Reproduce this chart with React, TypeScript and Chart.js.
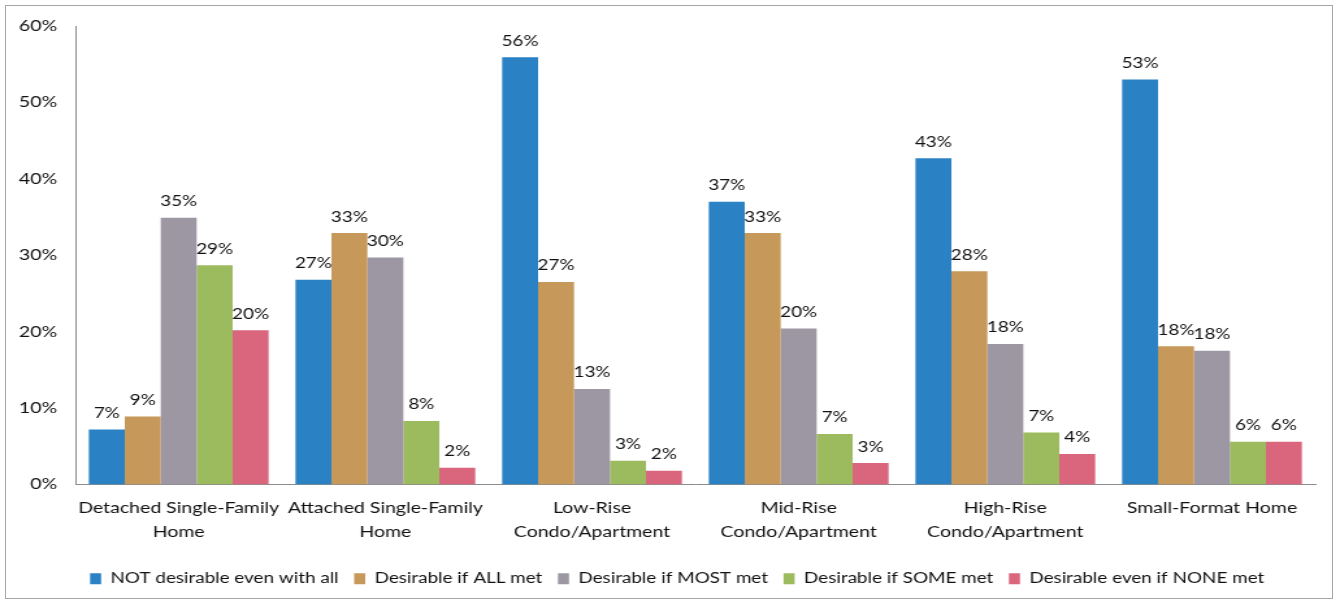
import React, { useEffect, useRef } from "react";
import { Chart, registerables } from "chart.js";

Chart.register(...registerables);

const categories: string[][] = [
  ["Detached Single-Family", "Home"],
  ["Attached Single-Family", "Home"],
  ["Low-Rise", "Condo/Apartment"],
  ["Mid-Rise", "Condo/Apartment"],
  ["High-Rise", "Condo/Apartment"],
  ["Small-Format Home"],
];

const seriesNames = [
  "NOT desirable even with all",
  "Desirable if ALL met",
  "Desirable if MOST met",
  "Desirable if SOME met",
  "Desirable even if NONE met",
];

const notDesirable = [7.2, 26.8, 55.9, 37.0, 42.7, 53.0];
const ifAllMet = [8.9, 32.9, 26.5, 32.9, 27.9, 18.1];
const ifMostMet = [34.9, 29.7, 12.5, 20.4, 18.4, 17.5];
const ifSomeMet = [28.7, 8.3, 3.1, 6.6, 6.8, 5.6];
const evenIfNone = [20.2, 2.2, 1.8, 2.8, 4.0, 5.6];

const colors = ["#2A82C4", "#C6985A", "#9D96A3", "#9BBB5E", "#D9667C"];

const yTicks = [0, 10, 20, 30, 40, 50, 60];

const FONT = "Lato, 'Open Sans', sans-serif";
const STRETCH = 1.3;
const W = 1340;
const H = 606;
const CW = Math.round(W / STRETCH);

const dataLabelPlugin = {
  id: "dataLabels",
  afterDatasetsDraw(chart: any) {
    const ctx = chart.ctx;
    ctx.save();
    ctx.font = `14.5px ${FONT}`;
    ctx.fillStyle = "#111";
    ctx.textAlign = "center";
    ctx.textBaseline = "bottom";
    chart.data.datasets.forEach((ds: any, di: number) => {
      const meta = chart.getDatasetMeta(di);
      meta.data.forEach((el: any, i: number) => {
        const v = ds.data[i];
        ctx.fillText(Math.round(v) + "%", el.x, el.y - 9);
      });
    });
    ctx.restore();
  },
};

const legendShiftPlugin = {
  id: "legendShift",
  afterLayout(chart: any) {
    const lg = chart.legend;
    if (lg) {
      lg.left += 30;
      lg.right += 0;
      lg.width = lg.right - lg.left;
    }
  },
};

export default function App() {
  const ref = useRef<HTMLCanvasElement>(null);
  useEffect(() => {
    document.body.style.margin = "0";
    const allSeries = [notDesirable, ifAllMet, ifMostMet, ifSomeMet, evenIfNone];
    const chart = new Chart(ref.current!, {
      type: "bar",
      data: {
        labels: categories,
        datasets: allSeries.map((d, i) => ({
          label: seriesNames[i],
          data: d,
          backgroundColor: colors[i],
          borderWidth: 0,
          categoryPercentage: 0.87,
          barPercentage: 1,
        })),
      },
      options: {
        animation: false,
        responsive: false,
        maintainAspectRatio: false,
        layout: { padding: { top: 26, right: 19, left: 0, bottom: 10 } },
        plugins: {
          legend: {
            position: "bottom",
            labels: {
              boxWidth: 8.5,
              boxHeight: 11,
              padding: 12,
              color: "#111",
              font: { family: FONT, size: 14.5 },
            },
          },
          tooltip: { enabled: false },
        },
        scales: {
          x: {
            grid: { display: false, drawTicks: false },
            border: { color: "#8c8c8c", width: 1 },
            ticks: {
              color: "#111",
              font: { family: FONT, size: 15, lineHeight: 1.6 },
              maxRotation: 0,
              autoSkip: false,
              padding: 12,
            },
            afterFit(scale: any) {
              scale.height = 75;
            },
          },
          y: {
            min: 0,
            max: 60,
            grid: { display: false, drawTicks: false },
            border: { color: "#8c8c8c", width: 1 },
            afterBuildTicks(scale: any) {
              scale.ticks = yTicks.map((v) => ({ value: v }));
            },
            ticks: {
              color: "#111",
              font: { family: FONT, size: 15 },
              padding: 14,
              callback: (v: any) => v + "%",
            },
            afterFit(scale: any) {
              scale.width = 58;
            },
          },
        },
      },
      plugins: [dataLabelPlugin, legendShiftPlugin],
    });
    return () => chart.destroy();
  }, []);
  return (
    <div style={{ position: "relative", width: W, height: H, background: "#fff", overflow: "hidden" }}>
      <div
        style={{
          position: "absolute",
          left: 5,
          top: 5,
          width: 1328,
          height: 594,
          border: "1px solid #a6a6a6",
          boxSizing: "border-box",
        }}
      />
      <canvas
        ref={ref}
        width={CW}
        height={H}
        style={{
          position: "absolute",
          left: 0,
          top: 0,
          transform: `scaleX(${W / CW})`,
          transformOrigin: "0 0",
        }}
      />
    </div>
  );
}
